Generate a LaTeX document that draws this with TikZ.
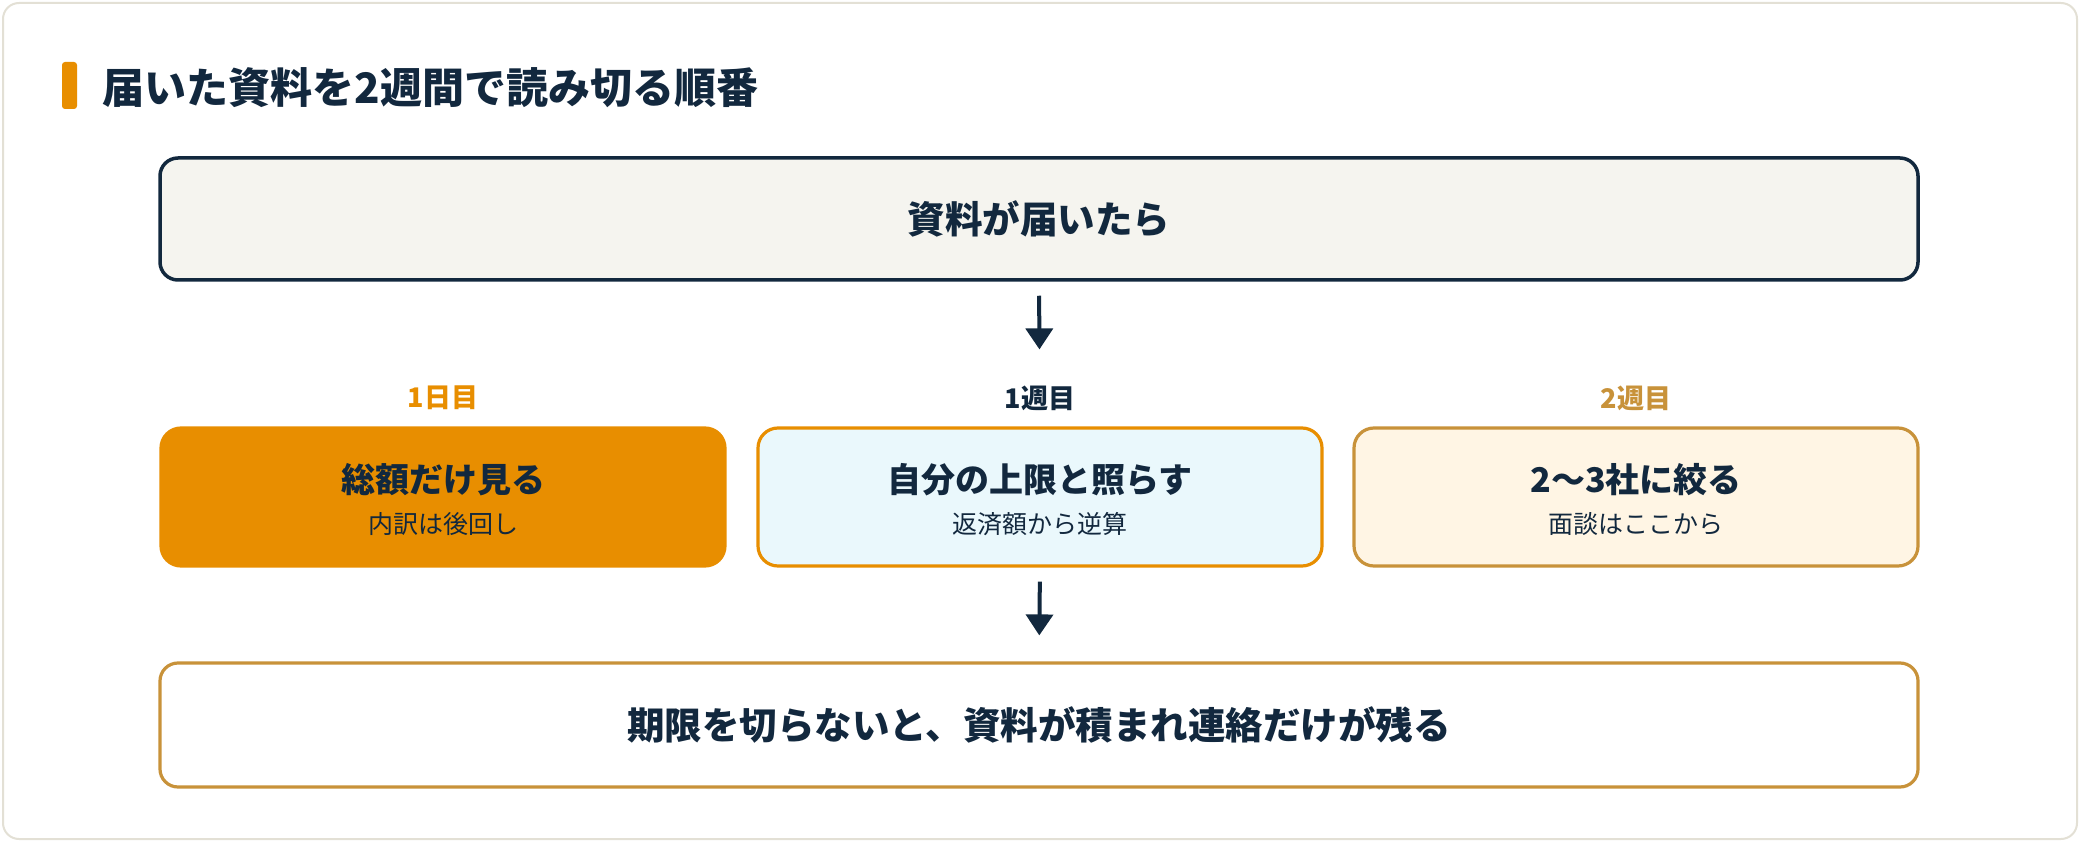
\documentclass[tikz,border=0pt]{standalone}
\usepackage{fontspec}
\setmainfont{Noto Sans CJK JP}
\usetikzlibrary{arrows.meta}

\definecolor{navy}{HTML}{12283E}
\definecolor{amber}{HTML}{E88E00}
\definecolor{gold}{HTML}{C8923A}
\definecolor{paper}{HTML}{F5F4EF}
\definecolor{ice}{HTML}{EAF8FC}
\definecolor{cream}{HTML}{FFF5E4}
\definecolor{cardline}{HTML}{E3E0D5}

\begin{document}
\begin{tikzpicture}[x=1pt,y=-1pt]

	% Styles
	\tikzstyle{widebox} = [draw,rounded corners=18pt,minimum width=1758pt,line width=3.5pt]
	\tikzstyle{stepbox} = [draw,rounded corners=20pt,minimum width=564pt,minimum height=138pt,line width=3.2pt]
	\tikzstyle{steptitle} = [text=navy,font=\fontsize{34}{40}\selectfont\bfseries]
	\tikzstyle{stepnote} = [text=navy,font=\fontsize{25}{30}\selectfont]
	\tikzstyle{daylabel} = [font=\fontsize{27}{32}\selectfont\bfseries]
	\tikzstyle{flow} = [-{Triangle[width=27pt,length=21pt]},draw=navy,line width=4pt]

	\useasboundingbox (0,0) rectangle (2080,842);

	% Karte
	\draw[cardline,line width=2pt,fill=white,rounded corners=16pt] (3,3) rectangle (2077,839);
	\fill[amber,rounded corners=3pt] (62,62) rectangle (77,109);
	\node at (99,88) [anchor=west,text=navy,font=\fontsize{42}{50}\selectfont\bfseries] (title) {届いた資料を2週間で読み切る順番};

	% Start
	\node at (1039,219) [widebox,draw=navy,fill=paper,minimum height=122pt,text=navy,font=\fontsize{37.5}{44}\selectfont\bfseries] (start) {資料が届いたら};

	% Schritte
	\node at (443,497) [stepbox,draw=amber,fill=amber] (day) {};
	\node at (1040,497) [stepbox,draw=amber,fill=ice] (week) {};
	\node at (1636,497) [stepbox,draw=gold,fill=cream] (weektwo) {};

	\node at (443,398) [daylabel,text=amber] (daylab) {1日目};
	\node at (1040,398) [daylabel,text=navy] (weeklab) {1週目};
	\node at (1636,398) [daylabel,text=gold] (weektwolab) {2週目};

	\node at (443,480) [steptitle] (daytitle) {総額だけ見る};
	\node at (443,524) [stepnote] (daynote) {内訳は後回し};
	\node at (1040,480) [steptitle] (weektitle) {自分の上限と照らす};
	\node at (1040,524) [stepnote] (weeknote) {返済額から逆算};
	\node at (1636,480) [steptitle] (weektwotitle) {2〜3社に絞る};
	\node at (1636,524) [stepnote] (weektwonote) {面談はここから};

	% Ergebnis
	\node at (1039,725) [widebox,draw=gold,fill=white,line width=3.2pt,minimum height=124pt,text=navy,font=\fontsize{37.5}{44}\selectfont\bfseries] (result) {期限を切らないと、資料が積まれ連絡だけが残る};

	% Pfeile
	\draw[flow,shorten <=14pt,shorten >=77pt] (start.south) -- (week.north);
	\draw[flow,shorten <=14pt,shorten >=26pt] (week.south) -- (result.north);

\end{tikzpicture}
\end{document}
